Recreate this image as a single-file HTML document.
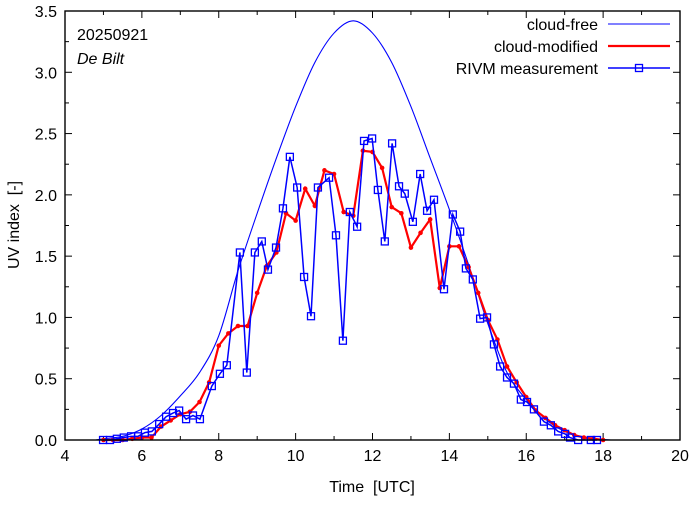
<!DOCTYPE html>
<html><head><meta charset="utf-8"><style>
body{margin:0;background:#fff}
svg text{font-family:"Liberation Sans",sans-serif;font-size:16px;fill:#000;white-space:pre}
</style></head><body>
<svg id="c" width="694" height="501"></svg>
<script>
const cfTimes=[4.8,5.0,5.5,6.0,6.5,7.0,7.5,8.0,8.5,9.0,9.5,10.0,10.5,11.0,11.5,12.0,12.5,13.0,13.5,14.0,14.5,15.0,15.5,16.0,16.5,17.0,17.5,18.0,18.2];
const cfValues=[0,0.01,0.03,0.09,0.2,0.36,0.55,0.85,1.38,1.85,2.3,2.72,3.08,3.32,3.42,3.32,3.08,2.72,2.3,1.88,1.43,0.95,0.55,0.33,0.17,0.07,0.02,0.005,0];
const cmTimes=[5.0,5.25,5.5,5.75,6.0,6.25,6.5,6.75,7.0,7.25,7.5,7.75,8.0,8.25,8.5,8.75,9.0,9.25,9.5,9.75,10.0,10.25,10.5,10.75,11.0,11.25,11.5,11.75,12.0,12.25,12.5,12.75,13.0,13.25,13.5,13.75,14.0,14.25,14.5,14.75,15.0,15.25,15.5,15.75,16.0,16.25,16.5,16.75,17.0,17.25,17.5,17.75,18.0];
const cmValues=[0,0,0,0.01,0.02,0.02,0.11,0.16,0.21,0.23,0.31,0.47,0.77,0.87,0.93,0.93,1.2,1.42,1.53,1.85,1.79,2.05,1.91,2.2,2.17,1.86,1.83,2.36,2.35,2.22,1.9,1.85,1.57,1.69,1.8,1.24,1.58,1.58,1.41,1.2,0.98,0.82,0.6,0.47,0.35,0.24,0.18,0.12,0.08,0.04,0.02,0.01,0];
const msTimes=[4.99,5.17,5.35,5.53,5.72,5.9,6.08,6.26,6.45,6.63,6.81,6.97,7.15,7.33,7.51,7.82,8.03,8.21,8.55,8.73,8.94,9.12,9.28,9.49,9.67,9.85,10.04,10.22,10.4,10.58,10.87,11.05,11.23,11.41,11.6,11.78,11.99,12.14,12.32,12.51,12.69,12.84,13.05,13.24,13.42,13.6,13.86,14.09,14.28,14.43,14.61,14.8,14.98,15.16,15.32,15.5,15.68,15.86,16.02,16.2,16.46,16.64,16.83,17.01,17.14,17.35,17.68,17.84];
const msValues=[0,0,0.01,0.02,0.03,0.03,0.06,0.07,0.13,0.19,0.22,0.24,0.17,0.2,0.17,0.44,0.54,0.61,1.53,0.55,1.53,1.62,1.39,1.57,1.89,2.31,2.06,1.33,1.01,2.06,2.14,1.67,0.81,1.86,1.74,2.44,2.46,2.04,1.62,2.42,2.07,2.01,1.78,2.17,1.87,1.96,1.23,1.84,1.7,1.4,1.31,0.99,1.0,0.78,0.6,0.51,0.46,0.33,0.31,0.25,0.15,0.12,0.07,0.05,0.02,0,0,0];
const xTicks=[4,6,8,10,12,14,16,18,20];
const yTicks=[0,0.5,1.0,1.5,2.0,2.5,3.0,3.5];

const NS="http://www.w3.org/2000/svg";
const svg=document.getElementById('c');
const L=65,R=680,T=11,B=440;
const X=t=>L+(t-4)/16*(R-L);
const Y=v=>B-v/3.5*(B-T);
function el(tag,attrs,parent){const e=document.createElementNS(NS,tag);for(const k in attrs)e.setAttribute(k,attrs[k]);(parent||svg).appendChild(e);return e;}

const tg=el('g',{stroke:'#000','stroke-width':1});


for(let t=4;t<=20;t+=1){const len=(t%2===0)?7:4;const x=X(t);
 el('line',{x1:x,y1:B,x2:x,y2:B-len},tg);el('line',{x1:x,y1:T,x2:x,y2:T+len},tg);}
for(let i=0;i<=14;i++){const v=i*0.25;const len=(i%2===0)?7:4;const y=Y(v);
 el('line',{x1:L,y1:y,x2:L+len,y2:y},tg);el('line',{x1:R,y1:y,x2:R-len,y2:y},tg);}
xTicks.forEach(t=>{const tx=el('text',{x:X(t),y:B+21,'text-anchor':'middle'});tx.textContent=t;
 
 });
yTicks.forEach(v=>{const tx=el('text',{x:L-8,y:Y(v)+6,'text-anchor':'end'});tx.textContent=v.toFixed(1);
 
 });

function smooth(ts,vs){let d=`M${X(ts[0])},${Y(vs[0])}`;
 for(let i=0;i<ts.length-1;i++){const p0=[X(ts[Math.max(i-1,0)]),Y(vs[Math.max(i-1,0)])],p1=[X(ts[i]),Y(vs[i])],p2=[X(ts[i+1]),Y(vs[i+1])],p3=[X(ts[Math.min(i+2,ts.length-1)]),Y(vs[Math.min(i+2,ts.length-1)])];
  const c1=[p1[0]+(p2[0]-p0[0])/6,p1[1]+(p2[1]-p0[1])/6],c2=[p2[0]-(p3[0]-p1[0])/6,p2[1]-(p3[1]-p1[1])/6];
  d+=` C${c1[0]},${c1[1]} ${c2[0]},${c2[1]} ${p2[0]},${p2[1]}`;}
 return d;}
const cf=el('path',{d:smooth(cfTimes,cfValues),fill:'none',stroke:'#0000ff','stroke-width':1.1});



const cm=el('polyline',{points:cmTimes.map((t,i)=>X(t)+','+Y(cmValues[i])).join(' '),fill:'none',stroke:'#ff0000','stroke-width':2.2});


cmTimes.forEach((t,i)=>{const c=el('circle',{cx:X(t),cy:Y(cmValues[i]),r:2.3,fill:'#ff0000'});
 
 });

const ms=el('polyline',{points:msTimes.map((t,i)=>X(t)+','+Y(msValues[i])).join(' '),fill:'none',stroke:'#0000ff','stroke-width':1.5});


msTimes.forEach((t,i)=>{const s=el('rect',{x:X(t)-3.5,y:Y(msValues[i])-3.5,width:7,height:7,fill:'none',stroke:'#0000ff','stroke-width':1.3});
 
 });

const fr=el('rect',{x:L,y:T,width:R-L,height:B-T,fill:'none',stroke:'#000','stroke-width':1.4});



const xt=el('text',{x:372,y:492,'text-anchor':'middle'});xt.textContent='Time  [UTC]';


const yt=el('text',{x:0,y:0,'text-anchor':'middle',transform:'translate(19,225) rotate(-90)'});yt.textContent='UV index  [-]';


const d1=el('text',{x:77,y:40});d1.textContent='20250921';


const d2=el('text',{x:77,y:64,'font-style':'italic'});d2.textContent='De Bilt';



const lg=el('g',{});


const rows=[['cloud-free',24],['cloud-modified',46],['RIVM measurement',68]];
rows.forEach(([lab,y],i)=>{const t=el('text',{x:598,y:y+6,'text-anchor':'end'},lg);t.textContent=lab;
 
 
 if(i===0)el('line',{x1:608,y1:y,x2:670,y2:y,stroke:'#0000ff','stroke-width':1.1},lg);
 if(i===1)el('line',{x1:608,y1:y,x2:670,y2:y,stroke:'#ff0000','stroke-width':2.2},lg);
 if(i===2){el('line',{x1:608,y1:y,x2:670,y2:y,stroke:'#0000ff','stroke-width':1.5},lg);
  el('rect',{x:635.5,y:y-3.5,width:7,height:7,fill:'none',stroke:'#0000ff','stroke-width':1.3},lg);}
});
</script>
</body></html>
